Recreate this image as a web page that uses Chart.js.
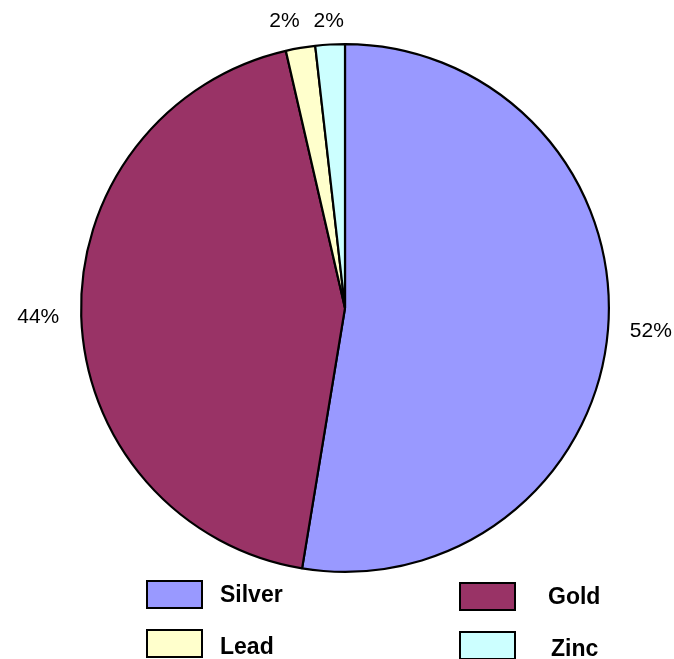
<!DOCTYPE html>
<html>
<head>
<meta charset="utf-8">
<script src="https://cdn.jsdelivr.net/npm/chart.js@4.4.0/dist/chart.umd.min.js"></script>
<style>
  html, body { margin: 0; padding: 0; background: #fff; }
  #wrap { width: 674px; height: 659px; position: relative; }
</style>
</head>
<body>
<div id="wrap"><canvas id="pieChart" width="674" height="659"></canvas></div>
<script>
// metals share (percent)
var metals = ['Silver', 'Gold', 'Lead', 'Zinc'];
var shares = [52.6, 43.8, 1.8, 1.8];
var shareLabels = ['52%', '44%', '2%', '2%'];
var fills = ['#9999FF', '#993366', '#FFFFCC', '#CCFFFF'];

// percent labels outside the pie, pushed apart when they collide
var outsideLabels = {
  id: 'outsideLabels',
  afterDatasetsDraw: function(chart) {
    var ctx = chart.ctx;
    var meta = chart.getDatasetMeta(0);
    ctx.save();
    ctx.font = '21px "Liberation Sans", Arial, sans-serif';
    ctx.fillStyle = '#000';
    ctx.textBaseline = 'middle';
    ctx.textAlign = 'center';
    var placed = [];
    for (var i = meta.data.length - 1; i >= 0; i--) {
      var arc = meta.data[i];
      var mid = (arc.startAngle + arc.endAngle) / 2;
      var w = ctx.measureText(shareLabels[i]).width;
      var r = arc.outerRadius + 22;
      var x = arc.x + Math.cos(mid) * (r + w / 2 * Math.abs(Math.cos(mid)));
      var y = arc.y + Math.sin(mid) * (r + 1 * Math.abs(Math.sin(mid)));
      placed.forEach(function(p) {
        if (Math.abs(p.y - y) < 20 && Math.abs(p.x - x) < (p.w + w) / 2 + 14) {
          x = p.x - (p.w + w) / 2 - 14;
          y = p.y;
        }
      });
      placed.push({ x: x, y: y, w: w });
      ctx.fillText(shareLabels[i], x, y);
    }
    ctx.restore();
  }
};

// two-column legend under the pie
var boxLegend = {
  id: 'boxLegend',
  afterDraw: function(chart) {
    var ctx = chart.ctx;
    var cols = [{ x: 147, text: 220 }, { x: 460, text: 548 }];
    var rows = [{ y: 581, text: 15 }, { y: 630, text: 18 }];
    ctx.save();
    ctx.font = 'bold 23px "Liberation Sans", Arial, sans-serif';
    ctx.textBaseline = 'middle';
    ctx.textAlign = 'left';
    chart.data.labels.forEach(function(name, i) {
      var c = cols[i % 2];
      var row = rows[Math.floor(i / 2)];
      var y = row.y + (i % 2 ? 2 : 0);
      ctx.fillStyle = chart.data.datasets[0].backgroundColor[i];
      ctx.fillRect(c.x, y, 55, 27);
      ctx.lineWidth = 2;
      ctx.strokeStyle = '#000';
      ctx.strokeRect(c.x, y, 55, 27);
      ctx.fillStyle = '#000';
      ctx.fillText(name, c.text + (i === 3 ? 3 : 0), y + row.text);
    });
    ctx.restore();
  }
};

var chart = new Chart(document.getElementById('pieChart'), {
  type: 'pie',
  data: {
    labels: metals,
    datasets: [{
      data: shares,
      backgroundColor: fills,
      borderColor: '#000',
      borderWidth: 2.2
    }]
  },
  options: {
    responsive: false,
    animation: false,
    rotation: 0,
    layout: { padding: { left: 80, right: 64, top: 43, bottom: 86 } },
    plugins: {
      legend: { display: false },
      tooltip: { enabled: false }
    }
  },
  plugins: [outsideLabels, boxLegend]
});
</script>
</body>
</html>
